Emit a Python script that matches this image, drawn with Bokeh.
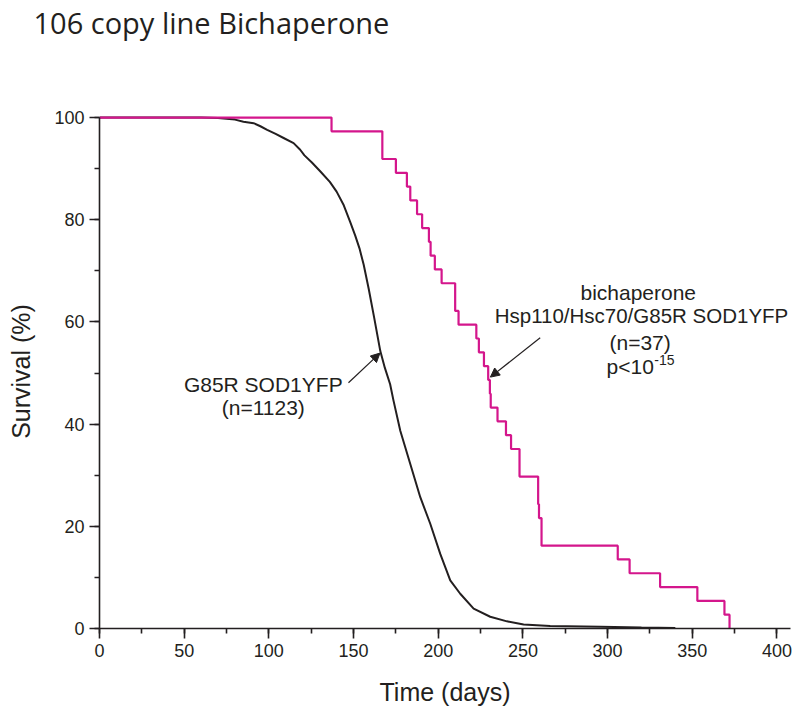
import numpy as np
from bokeh.plotting import figure
from bokeh.models import Label, Arrow, NormalHead, Range1d, SingleIntervalTicker, Title
from bokeh.embed import file_html
from bokeh.resources import INLINE

# ---------------- data ----------------
title_text = "106 copy line Bichaperone"
x_label = "Time (days)"
y_label = "Survival (%)"

# G85R SOD1YFP (n=1123) survival curve
g85r_days = [0, 60, 70, 80, 85, 91, 95, 99, 104, 108.7, 114.6, 118.5, 121.0, 125.4,
             130.3, 136.0, 140.0, 144.0, 148.0, 151.0, 153.5, 156.0, 159.0,
             162.2, 165.8, 168.5, 171.6, 173.6, 177.6, 183.5, 189.4, 195.3, 201.2,
             207.1, 213.0, 220.9, 230.7, 240.6, 250.4, 266.1, 295.7, 320.0, 340.0]
g85r_surv = [100, 100, 99.9, 99.6, 99.2, 98.9, 98.3, 97.6, 96.8, 96.0, 95.0, 93.7, 92.6, 91.2,
             89.5, 87.4, 85.5, 83.0, 79.6, 76.9, 74.4, 71.2, 66.4,
             60.8, 54.3, 51.0, 47.8, 44.6, 38.7, 32.2, 25.7, 20.5, 14.6,
             9.4, 6.8, 3.9, 2.3, 1.4, 0.8, 0.5, 0.35, 0.2, 0.1]

# bichaperone Hsp110/Hsc70/G85R SOD1YFP (n=37): day of each death
bichap_deaths = [137, 167, 167, 175, 181.5, 183.5, 187.5, 190.5, 194.5, 195.5, 198, 202,
                 210, 210, 212, 222.5, 224, 227, 229.5, 230.5, 231, 235, 240, 243,
                 248, 248, 259, 259, 259.5, 261, 261, 306, 313, 331, 353, 369, 372]

x_ticks_interval = 50
y_ticks_interval = 20

# Kaplan-Meier steps for bichaperone line
d = np.array(bichap_deaths, dtype=float)
n_total = len(d)
ut, counts = np.unique(d, return_counts=True)
bx = np.concatenate([[0.0], ut])
by = np.concatenate([[100.0], 100.0 * (1 - np.cumsum(counts) / n_total)])

INK = "#231f20"
MAG = "#d4168c"
SANS = "Liberation Sans"

p = figure(width=796, height=721, output_backend="svg", toolbar_location=None,
           x_range=Range1d(0, 408.0), y_range=Range1d(0, 100.6),
           min_border_left=99, min_border_right=6, min_border_top=113, min_border_bottom=93)
p.outline_line_color = None
p.xgrid.visible = False
p.ygrid.visible = False

# spacer between frame and title (keeps the title at the top of the page)
p.add_layout(Title(text="\u00a0", text_font_size="10px", standoff=60), "above")

p.title.text = title_text
p.title.text_font = "Open Sans"
p.title.text_font_size = "29px"
p.title.text_font_style = "normal"
p.title.text_color = INK
p.title.align = "left"
p.title.offset = -66
p.title.standoff = 0

p.line(g85r_days, g85r_surv, line_color=INK, line_width=2.0)
p.step(bx, by, mode="after", line_color=MAG, line_width=2.2)

for ax, interval in ((p.xaxis[0], x_ticks_interval), (p.yaxis[0], y_ticks_interval)):
    ax.ticker = SingleIntervalTicker(interval=interval, num_minor_ticks=2)
    ax.axis_line_color = INK
    ax.axis_line_width = 1.6
    ax.major_tick_line_color = INK
    ax.major_tick_line_width = 1.6
    ax.minor_tick_line_color = INK
    ax.minor_tick_line_width = 1.6
    ax.major_tick_in = 0
    ax.major_tick_out = 10
    ax.minor_tick_in = 0
    ax.minor_tick_out = 5
    ax.major_label_text_font = SANS
    ax.major_label_text_font_size = "18px"
    ax.major_label_text_color = INK
    ax.major_label_standoff = 5
    ax.axis_label_text_font = SANS
    ax.axis_label_text_font_size = "25px"
    ax.axis_label_text_font_style = "normal"
    ax.axis_label_text_color = INK

p.yaxis.bounds = (0, 100)
p.xaxis.axis_label = x_label
p.yaxis.axis_label = y_label
p.xaxis.axis_label_standoff = 18
p.yaxis.axis_label_standoff = 16

def lab(x, y, t, size="21px", align="center"):
    p.add_layout(Label(x=x, y=y, text=t, text_font=SANS, text_font_size=size,
                       text_color=INK, text_align=align, text_baseline="middle"))

lab(96.7, 47.8, "G85R SOD1YFP")
lab(96.7, 43.2, "(n=1123)")
lab(318.1, 65.8, "bichaperone")
lab(320.0, 61.2, "Hsp110/Hsc70/G85R SOD1YFP", size="20.5px")
lab(319.2, 56.0, "(n=37)")
lab(327.3, 51.2, "p<10", align="right")
lab(327.6, 52.6, "-15", size="14px", align="left")

p.add_layout(Arrow(end=NormalHead(size=9, fill_color=INK, line_color=INK, line_width=1),
                   x_start=147.0, y_start=48.1, x_end=165.6, y_end=53.9,
                   line_color=INK, line_width=1.2))
p.add_layout(Arrow(end=NormalHead(size=9, fill_color=INK, line_color=INK, line_width=1),
                   x_start=260.2, y_start=56.9, x_end=230.8, y_end=49.2,
                   line_color=INK, line_width=1.2))

open("out.html", "w").write(file_html(p, INLINE))
